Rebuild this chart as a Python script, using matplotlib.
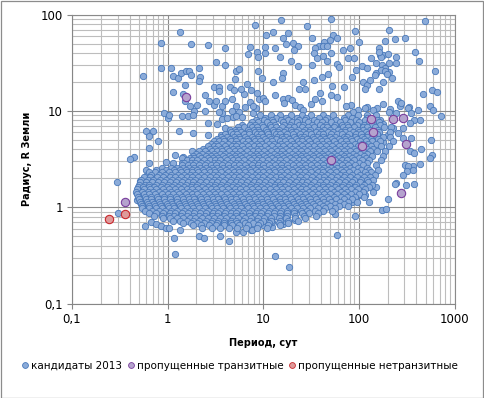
import numpy as np
import matplotlib
matplotlib.use("Agg")
import matplotlib.pyplot as plt
from matplotlib.patches import Rectangle
from matplotlib.lines import Line2D

plt.rcParams['font.family'] = ['DejaVu Sans']

# ---------------- data ----------------
# Candidate planets (Kepler 2013).
# Values are given as (log10 period [days], log10 radius [Earth radii]).

# sparse points above / around the main cloud
cand_upper = [
    (-0.07, 1.71), (0.13, 1.82), (0.24, 1.70), (0.42, 1.69), (0.60, 1.65), (0.91, 1.89), (0.86, 1.66),
    (0.84, 1.59), (0.93, 1.61), (0.95, 1.56), (1.02, 1.60), (1.02, 1.66), (1.03, 1.79), (1.10, 1.82),
    (1.12, 1.65), (1.19, 1.94), (1.21, 1.76), (1.26, 1.81), (1.24, 1.70), (1.31, 1.71), (1.36, 1.68),
    (1.32, 1.63), (1.46, 1.88), (1.51, 1.76), (1.71, 1.96), (1.73, 1.79), (1.77, 1.76), (1.70, 1.74),
    (1.64, 1.72), (1.58, 1.68), (1.54, 1.65), (1.63, 1.67), (1.71, 1.60), (1.83, 1.63), (1.91, 1.65),
    (1.96, 1.83), (2.00, 1.72), (2.21, 1.65), (2.22, 1.58), (2.25, 1.58), (2.13, 1.55), (2.32, 1.84),
    (2.27, 1.73), (2.38, 1.75), (2.48, 1.76), (2.59, 1.61), (2.69, 1.93), (2.39, 1.56),
    (1.18, 1.56), (1.29, 1.52), (1.53, 1.60), (1.56, 1.55), (1.51, 1.48), (1.63, 1.57), (1.67, 1.52),
    (1.77, 1.49), (1.79, 1.46), (1.89, 1.55), (1.95, 1.55), (2.03, 1.47), (2.08, 1.45), (2.23, 1.56),
    (2.18, 1.50), (2.24, 1.48), (2.27, 1.45), (2.32, 1.50), (2.39, 1.50), (2.63, 1.52), (1.36, 1.47),
    (1.67, 1.68), (2.21, 1.61), (2.30, 1.59), (2.31, 1.40), (2.18, 1.39),
]

cand_middle = [
    (0.51, 1.51), (0.60, 1.48), (-0.07, 1.45), (0.04, 1.45), (-0.26, 1.36), (0.06, 1.36), (0.11, 1.34),
    (0.14, 1.39), (0.19, 1.41), (0.22, 1.41), (0.24, 1.37), (0.33, 1.45), (0.34, 1.35), (0.33, 1.31),
    (0.18, 1.27), (0.06, 1.20), (0.16, 1.18), (0.18, 1.10), (0.23, 1.05), (0.31, 1.06), (0.39, 1.17),
    (0.49, 1.25), (0.54, 1.25), (0.54, 1.21), (0.65, 1.25), (0.69, 1.22), (0.70, 1.33), (0.72, 1.42),
    (0.75, 1.44), (0.83, 1.28), (0.80, 1.18), (0.87, 1.22), (0.77, 1.23), (0.95, 1.42), (-0.04, 0.98),
    (0.00, 0.93), (0.01, 0.96), (0.15, 0.95), (0.21, 0.95), (0.28, 1.00), (0.39, 1.00), (0.42, 0.87),
    (0.52, 0.86), (0.12, 0.79), (0.27, 0.77), (0.42, 0.75), (-0.23, 0.79), (-0.15, 0.79), (-0.19, 0.74),
    (-0.10, 0.69), (-0.19, 0.62), (-0.35, 0.52), (-0.39, 0.50), (0.08, 0.54), (0.16, 0.52),
    (0.43, 1.10), (0.48, 1.06), (0.51, 1.10), (0.57, 1.05), (0.60, 1.10), (0.67, 1.12), (0.72, 1.05),
    (0.67, 1.00), (0.75, 0.99), (0.81, 1.04), (0.86, 1.09), (0.89, 0.98), (0.92, 1.03), (0.96, 1.12),
    (0.57, 0.98), (0.57, 0.92), (0.62, 0.93), (0.68, 0.94), (0.71, 0.95), (0.78, 0.94),
    (0.27, 0.96), (0.54, 0.99), (0.56, 0.75), (0.60, 0.82), (0.65, 0.80), (-0.19, 0.46), (-0.23, 0.39),
    (-0.22, 0.34), (-0.02, 0.47), (0.06, 0.46), (0.15, 0.51), (0.15, 0.46), (0.25, 0.58),
    (0.99, 1.34), (1.10, 1.30), (1.37, 1.23), (1.42, 1.30), (1.44, 1.23), (1.53, 1.32), (1.61, 1.35),
    (1.68, 1.38), (1.72, 1.26), (1.84, 1.25), (1.93, 1.35), (1.97, 1.43), (2.04, 1.30), (2.08, 1.27),
    (2.12, 1.32), (2.17, 1.37), (2.23, 1.43), (2.27, 1.42), (2.29, 1.38), (2.35, 1.34), (2.25, 1.30),
    (2.21, 1.23), (2.06, 1.23), (2.80, 1.41), (2.76, 1.22), (2.82, 1.20), (0.93, 1.19), (1.00, 1.13),
    (1.02, 1.10), (0.89, 1.05), (1.12, 1.17), (1.21, 1.12), (1.26, 1.13), (1.30, 1.11), (1.22, 1.08),
    (1.33, 1.06), (1.38, 1.04), (1.42, 1.01), (1.50, 1.07), (1.54, 1.12), (1.59, 1.19), (1.61, 1.10),
    (1.71, 1.17), (1.77, 1.14), (1.92, 1.06), (1.99, 1.01), (2.09, 1.04), (2.19, 1.03), (2.25, 1.07),
    (2.33, 1.02), (2.41, 1.10), (2.43, 1.05), (2.52, 1.04), (2.67, 1.18),
    (1.21, 1.39), (1.20, 1.34),
]

cand_right = [
    (1.87, 1.05), (1.94, 0.99), (1.89, 0.96), (1.83, 0.89), (1.97, 0.91), (2.06, 1.03), (2.08, 0.96),
    (2.15, 1.01), (2.18, 0.96), (2.22, 0.91), (2.25, 0.86), (2.20, 0.82), (2.32, 0.99), (2.39, 0.98),
    (2.44, 1.08), (2.51, 1.03), (2.55, 0.98), (2.62, 1.01), (2.64, 0.91), (2.58, 0.91), (2.53, 0.87),
    (2.74, 1.05), (2.78, 1.01), (2.86, 0.95), (2.46, 0.82), (2.41, 0.77), (2.36, 0.82), (2.30, 0.75),
    (2.25, 0.68), (2.46, 0.72), (2.55, 0.72), (2.75, 0.70), (2.53, 0.58), (2.58, 0.56), (2.65, 0.61),
    (2.48, 0.44), (2.39, 0.25), (2.18, 0.21), (2.15, 0.16), (2.06, 0.13), (2.01, 0.13),
    (2.76, 0.54), (2.74, 0.51), (2.64, 0.45), (2.57, 0.43), (2.51, 0.43), (2.50, 0.38), (2.46, 0.33),
    (2.57, 0.39), (2.58, 0.24), (2.49, 0.23), (2.38, 0.24), (2.30, 0.09), (2.24, -0.03), (2.28, -0.02),
    (2.11, 0.05), (1.96, -0.09), (1.93, 0.05), (1.89, 0.09), (1.75, -0.07), (1.77, -0.29),
]

cand_lower = [
    (-0.53, 0.26), (-0.29, 0.27), (-0.28, 0.21), (-0.31, 0.16), (-0.29, 0.09), (-0.32, 0.08),
    (-0.24, -0.19), (-0.17, -0.15), (-0.12, -0.17), (-0.07, -0.19), (-0.02, -0.22), (0.01, -0.22),
    (0.07, -0.32), (0.08, -0.49), (0.13, -0.24), (0.33, -0.30), (0.38, -0.32), (0.55, -0.30),
    (0.64, -0.35), (0.71, -0.26), (0.79, -0.26), (0.87, -0.24), (-0.52, -0.06),
    (1.12, -0.51), (1.27, -0.62), (1.09, -0.21), (1.09, -0.15), (1.00, -0.18), (0.93, -0.15),
    (1.21, -0.17), (1.23, -0.14), (0.88, -0.24), (1.33, -0.13), (1.42, -0.05),
]

# dense cloud: one list of log10 periods for each log10 radius level
core_log_radius = [0.958, 0.931, 0.905, 0.884, 0.858, 0.829, 0.806, 0.783, 0.757, 0.732, 0.709, 0.683,
                   0.657, 0.636, 0.609, 0.586, 0.558, 0.534, 0.511, 0.487, 0.459, 0.436, 0.412, 0.387,
                   0.361, 0.338, 0.311, 0.288, 0.262, 0.236, 0.214, 0.187, 0.161, 0.138, 0.111, 0.087,
                   0.059, 0.036, 0.012, -0.013, -0.041, -0.064, -0.088, -0.113, -0.139, -0.163, -0.188,
                   -0.214]
core_log_period = [
    [0.97, 1.08, 1.17, 1.29, 1.40, 1.50, 1.62, 1.73, 1.99],
    [1.02, 1.13, 1.24, 1.35, 1.45, 1.58, 1.67, 1.84, 1.93, 2.08],
    [0.92, 1.01, 1.09, 1.19, 1.26, 1.37, 1.44, 1.53, 1.65, 1.76, 1.86, 1.97, 2.06, 2.19],
    [0.88, 0.95, 1.04, 1.10, 1.21, 1.30, 1.35, 1.47, 1.56, 1.61, 1.71, 1.80, 1.91, 2.00, 2.11, 2.21],
    [0.78, 0.86, 0.91, 0.99, 1.07, 1.12, 1.22, 1.28, 1.37, 1.42, 1.51, 1.59, 1.66, 1.75, 1.82, 1.88, 1.98,
     2.05, 2.14, 2.22],
    [0.74, 0.80, 0.88, 0.93, 1.00, 1.08, 1.13, 1.20, 1.27, 1.32, 1.41, 1.47, 1.53, 1.62, 1.67, 1.74, 1.83,
     1.89, 1.95, 2.04, 2.09, 2.17, 2.26, 2.34],
    [0.70, 0.75, 0.84, 0.90, 0.95, 1.03, 1.10, 1.16, 1.24, 1.29, 1.36, 1.44, 1.49, 1.57, 1.64, 1.70, 1.78,
     1.85, 1.91, 1.99, 2.04, 2.12, 2.20],
    [0.66, 0.72, 0.77, 0.85, 0.91, 0.96, 1.04, 1.11, 1.15, 1.22, 1.30, 1.34, 1.42, 1.48, 1.55, 1.60, 1.68,
     1.73, 1.81, 1.86, 1.94, 2.00, 2.07, 2.15, 2.21, 2.33],
    [0.60, 0.68, 0.73, 0.80, 0.85, 0.93, 0.98, 1.05, 1.13, 1.17, 1.25, 1.31, 1.38, 1.45, 1.50, 1.58, 1.63,
     1.71, 1.77, 1.82, 1.90, 1.97, 2.02, 2.10, 2.19],
    [0.56, 0.62, 0.69, 0.75, 0.81, 0.88, 0.94, 1.00, 1.06, 1.14, 1.20, 1.24, 1.32, 1.39, 1.43, 1.52, 1.56,
     1.63, 1.70, 1.75, 1.84, 1.88, 1.96, 2.03, 2.08, 2.16, 2.25, 2.33],
    [0.52, 0.58, 0.65, 0.71, 0.76, 0.83, 0.90, 0.95, 1.02, 1.08, 1.13, 1.21, 1.27, 1.34, 1.40, 1.46, 1.53,
     1.59, 1.65, 1.72, 1.79, 1.85, 1.92, 1.98, 2.05, 2.13, 2.20],
    [0.48, 0.54, 0.59, 0.66, 0.72, 0.79, 0.84, 0.91, 0.97, 1.04, 1.09, 1.17, 1.23, 1.29, 1.36, 1.41, 1.48,
     1.55, 1.61, 1.67, 1.74, 1.81, 1.87, 1.93, 2.01, 2.07, 2.14, 2.22, 2.36],
    [0.45, 0.51, 0.57, 0.63, 0.69, 0.74, 0.81, 0.87, 0.93, 0.99, 1.06, 1.11, 1.19, 1.25, 1.31, 1.37, 1.44,
     1.50, 1.57, 1.63, 1.69, 1.76, 1.83, 1.89, 1.96, 2.03, 2.10, 2.18],
    [0.42, 0.48, 0.53, 0.60, 0.67, 0.72, 0.78, 0.84, 0.90, 0.96, 1.02, 1.09, 1.15, 1.21, 1.28, 1.33, 1.40,
     1.47, 1.53, 1.59, 1.66, 1.72, 1.79, 1.86, 1.91, 1.99, 2.06, 2.13, 2.23, 2.31],
    [0.37, 0.44, 0.50, 0.56, 0.62, 0.68, 0.74, 0.80, 0.86, 0.93, 0.98, 1.05, 1.12, 1.17, 1.24, 1.30, 1.36,
     1.43, 1.49, 1.56, 1.62, 1.69, 1.75, 1.81, 1.88, 1.95, 2.01, 2.08, 2.15],
    [0.33, 0.39, 0.46, 0.52, 0.57, 0.64, 0.70, 0.76, 0.83, 0.89, 0.95, 1.01, 1.08, 1.14, 1.20, 1.27, 1.33,
     1.39, 1.46, 1.52, 1.58, 1.65, 1.71, 1.78, 1.84, 1.91, 1.97, 2.04, 2.12, 2.19, 2.27],
    [0.30, 0.36, 0.42, 0.48, 0.55, 0.60, 0.67, 0.73, 0.79, 0.86, 0.92, 0.98, 1.04, 1.11, 1.17, 1.23, 1.30,
     1.36, 1.42, 1.49, 1.55, 1.61, 1.68, 1.74, 1.81, 1.87, 1.94, 2.01, 2.09],
    [0.27, 0.33, 0.40, 0.45, 0.51, 0.58, 0.64, 0.70, 0.76, 0.82, 0.89, 0.95, 1.01, 1.07, 1.14, 1.20, 1.26,
     1.33, 1.39, 1.45, 1.52, 1.58, 1.64, 1.71, 1.77, 1.84, 1.90, 1.97, 2.05, 2.14, 2.25],
    [0.23, 0.28, 0.35, 0.42, 0.47, 0.53, 0.60, 0.66, 0.71, 0.78, 0.85, 0.90, 0.96, 1.03, 1.09, 1.15, 1.22,
     1.28, 1.34, 1.41, 1.47, 1.53, 1.60, 1.66, 1.73, 1.79, 1.86, 1.93, 2.00, 2.07],
    [0.20, 0.26, 0.31, 0.38, 0.44, 0.50, 0.55, 0.62, 0.68, 0.74, 0.80, 0.87, 0.93, 0.99, 1.05, 1.12, 1.18,
     1.24, 1.31, 1.37, 1.43, 1.50, 1.56, 1.62, 1.69, 1.75, 1.82, 1.88, 1.95, 2.03, 2.11, 2.23],
    [0.17, 0.24, 0.29, 0.35, 0.41, 0.48, 0.53, 0.59, 0.65, 0.72, 0.77, 0.84, 0.90, 0.96, 1.03, 1.09, 1.15,
     1.21, 1.28, 1.34, 1.40, 1.47, 1.53, 1.59, 1.66, 1.72, 1.79, 1.85, 1.92, 2.00, 2.08],
    [0.15, 0.21, 0.27, 0.33, 0.39, 0.45, 0.51, 0.57, 0.63, 0.69, 0.75, 0.81, 0.88, 0.94, 1.00, 1.06, 1.12,
     1.19, 1.25, 1.31, 1.37, 1.44, 1.50, 1.56, 1.63, 1.69, 1.76, 1.82, 1.89, 1.96, 2.04, 2.18],
    [-0.06, 0.04, 0.10, 0.16, 0.22, 0.28, 0.34, 0.40, 0.46, 0.52, 0.58, 0.64, 0.70, 0.77, 0.83, 0.89, 0.95,
     1.01, 1.08, 1.14, 1.20, 1.26, 1.33, 1.39, 1.45, 1.52, 1.58, 1.64, 1.71, 1.77, 1.84, 1.91, 1.99, 2.09],
    [-0.12, -0.02, 0.07, 0.13, 0.19, 0.25, 0.31, 0.37, 0.43, 0.49, 0.55, 0.61, 0.67, 0.74, 0.80, 0.86,
     0.92, 0.98, 1.05, 1.11, 1.17, 1.23, 1.30, 1.36, 1.42, 1.49, 1.55, 1.61, 1.68, 1.74, 1.81, 1.87, 1.94,
     2.02, 2.11, 2.20],
    [-0.20, -0.13, -0.06, 0.01, 0.08, 0.14, 0.20, 0.26, 0.32, 0.38, 0.44, 0.50, 0.56, 0.63, 0.69, 0.75,
     0.81, 0.87, 0.94, 1.00, 1.06, 1.12, 1.19, 1.25, 1.31, 1.38, 1.44, 1.50, 1.57, 1.63, 1.70, 1.76, 1.83,
     1.90, 1.98, 2.06, 2.13],
    [-0.17, -0.09, -0.03, 0.04, 0.11, 0.17, 0.23, 0.29, 0.35, 0.41, 0.47, 0.53, 0.60, 0.66, 0.72, 0.78,
     0.84, 0.91, 0.97, 1.03, 1.09, 1.16, 1.22, 1.28, 1.35, 1.41, 1.47, 1.54, 1.60, 1.67, 1.73, 1.80, 1.86,
     1.93, 2.01, 2.09, 2.17],
    [-0.25, -0.18, -0.11, -0.05, 0.02, 0.08, 0.14, 0.20, 0.26, 0.32, 0.38, 0.44, 0.51, 0.57, 0.63, 0.69,
     0.75, 0.82, 0.88, 0.94, 1.00, 1.07, 1.13, 1.19, 1.26, 1.32, 1.38, 1.45, 1.51, 1.58, 1.64, 1.71, 1.77,
     1.84, 1.91, 1.98, 2.05, 2.12],
    [-0.28, -0.21, -0.15, -0.08, -0.02, 0.05, 0.11, 0.17, 0.23, 0.29, 0.35, 0.42, 0.48, 0.54, 0.60, 0.66,
     0.73, 0.79, 0.85, 0.91, 0.98, 1.04, 1.10, 1.17, 1.23, 1.29, 1.36, 1.42, 1.49, 1.55, 1.62, 1.68, 1.75,
     1.81, 1.88, 1.95, 2.02, 2.08, 2.15],
    [-0.29, -0.23, -0.16, -0.10, -0.04, 0.03, 0.09, 0.15, 0.21, 0.27, 0.34, 0.40, 0.46, 0.52, 0.58, 0.65,
     0.71, 0.77, 0.83, 0.90, 0.96, 1.02, 1.08, 1.15, 1.21, 1.27, 1.34, 1.40, 1.46, 1.53, 1.59, 1.66, 1.72,
     1.79, 1.86, 1.93, 2.01, 2.10],
    [-0.30, -0.24, -0.19, -0.12, -0.06, 0.00, 0.07, 0.13, 0.19, 0.25, 0.31, 0.37, 0.44, 0.50, 0.56, 0.62,
     0.68, 0.75, 0.81, 0.87, 0.93, 1.00, 1.06, 1.12, 1.18, 1.25, 1.31, 1.37, 1.44, 1.50, 1.57, 1.63, 1.70,
     1.76, 1.83, 1.90, 1.97, 2.05, 2.14],
    [-0.31, -0.26, -0.20, -0.14, -0.07, -0.01, 0.05, 0.11, 0.17, 0.24, 0.30, 0.36, 0.42, 0.48, 0.55, 0.61,
     0.67, 0.73, 0.79, 0.86, 0.92, 0.98, 1.04, 1.11, 1.17, 1.23, 1.30, 1.36, 1.42, 1.49, 1.55, 1.62, 1.68,
     1.75, 1.82, 1.89, 1.96, 2.03, 2.11],
    [-0.32, -0.25, -0.18, -0.12, -0.05, 0.01, 0.08, 0.14, 0.20, 0.26, 0.32, 0.39, 0.45, 0.51, 0.57, 0.63,
     0.70, 0.76, 0.82, 0.88, 0.95, 1.01, 1.07, 1.13, 1.20, 1.26, 1.32, 1.39, 1.45, 1.52, 1.58, 1.65, 1.71,
     1.78, 1.85, 1.92, 1.99, 2.06],
    [-0.33, -0.27, -0.21, -0.15, -0.09, -0.03, 0.04, 0.10, 0.16, 0.22, 0.29, 0.35, 0.41, 0.47, 0.53, 0.60,
     0.66, 0.72, 0.78, 0.85, 0.91, 0.97, 1.03, 1.10, 1.16, 1.22, 1.29, 1.35, 1.41, 1.48, 1.54, 1.61, 1.67,
     1.74, 1.81, 1.88, 1.96, 2.04],
    [-0.32, -0.25, -0.19, -0.13, -0.06, 0.00, 0.06, 0.12, 0.19, 0.25, 0.31, 0.37, 0.43, 0.50, 0.56, 0.62,
     0.68, 0.75, 0.81, 0.87, 0.93, 1.00, 1.06, 1.12, 1.19, 1.25, 1.31, 1.38, 1.44, 1.51, 1.57, 1.64, 1.70,
     1.77, 1.84, 1.92, 2.00],
    [-0.31, -0.24, -0.17, -0.11, -0.04, 0.02, 0.09, 0.15, 0.21, 0.27, 0.34, 0.40, 0.46, 0.52, 0.59, 0.65,
     0.71, 0.77, 0.84, 0.90, 0.96, 1.03, 1.09, 1.15, 1.22, 1.28, 1.34, 1.41, 1.47, 1.54, 1.60, 1.67, 1.74,
     1.81, 1.88, 1.96, 2.05],
    [-0.30, -0.23, -0.17, -0.10, -0.04, 0.03, 0.10, 0.16, 0.22, 0.28, 0.35, 0.41, 0.47, 0.53, 0.60, 0.66,
     0.72, 0.79, 0.85, 0.91, 0.98, 1.04, 1.10, 1.17, 1.23, 1.29, 1.36, 1.42, 1.49, 1.55, 1.62, 1.69, 1.76,
     1.84, 1.93],
    [-0.29, -0.22, -0.16, -0.09, -0.03, 0.04, 0.10, 0.17, 0.23, 0.29, 0.36, 0.42, 0.48, 0.55, 0.61, 0.67,
     0.74, 0.80, 0.86, 0.93, 0.99, 1.05, 1.12, 1.18, 1.24, 1.31, 1.37, 1.44, 1.50, 1.57, 1.64, 1.71, 1.80,
     1.89, 1.98],
    [-0.28, -0.21, -0.14, -0.08, -0.01, 0.05, 0.12, 0.18, 0.24, 0.31, 0.37, 0.43, 0.50, 0.56, 0.62, 0.69,
     0.75, 0.81, 0.88, 0.94, 1.00, 1.07, 1.13, 1.19, 1.26, 1.32, 1.39, 1.45, 1.52, 1.59, 1.67, 1.75, 1.84],
    [-0.27, -0.20, -0.13, -0.07, 0.00, 0.06, 0.13, 0.19, 0.26, 0.32, 0.38, 0.45, 0.51, 0.57, 0.64, 0.70,
     0.76, 0.83, 0.89, 0.95, 1.02, 1.08, 1.15, 1.21, 1.27, 1.34, 1.40, 1.47, 1.54, 1.62, 1.70, 1.79, 1.89],
    [-0.27, -0.19, -0.12, -0.06, 0.01, 0.07, 0.14, 0.20, 0.27, 0.33, 0.39, 0.46, 0.52, 0.58, 0.65, 0.71,
     0.77, 0.84, 0.90, 0.97, 1.03, 1.09, 1.16, 1.22, 1.29, 1.35, 1.42, 1.49, 1.57, 1.65, 1.75],
    [-0.24, -0.16, -0.09, -0.03, 0.04, 0.10, 0.17, 0.23, 0.29, 0.36, 0.42, 0.48, 0.55, 0.61, 0.68, 0.74,
     0.80, 0.87, 0.93, 1.00, 1.06, 1.12, 1.19, 1.25, 1.32, 1.39, 1.46, 1.54, 1.63, 1.72],
    [-0.20, -0.12, -0.05, 0.02, 0.08, 0.15, 0.21, 0.28, 0.34, 0.40, 0.47, 0.53, 0.60, 0.66, 0.72, 0.79,
     0.85, 0.92, 0.98, 1.05, 1.11, 1.18, 1.25, 1.32, 1.40, 1.48, 1.57],
    [-0.14, -0.06, 0.01, 0.07, 0.14, 0.20, 0.27, 0.33, 0.39, 0.46, 0.52, 0.59, 0.65, 0.72, 0.78, 0.85,
     0.91, 0.97, 1.04, 1.11, 1.18, 1.25, 1.33, 1.43, 1.55],
    [-0.05, 0.03, 0.10, 0.16, 0.23, 0.29, 0.36, 0.42, 0.48, 0.55, 0.61, 0.68, 0.74, 0.81, 0.87, 0.94,
     1.01, 1.08, 1.16, 1.24, 1.33, 1.44],
    [0.06, 0.13, 0.20, 0.27, 0.33, 0.40, 0.46, 0.53, 0.59, 0.66, 0.72, 0.79, 0.86, 0.93, 1.00, 1.08, 1.17,
     1.26, 1.36],
    [0.16, 0.24, 0.31, 0.38, 0.45, 0.52, 0.59, 0.66, 0.73, 0.81, 0.89, 0.97, 1.06, 1.16, 1.26],
    [0.27, 0.35, 0.43, 0.51, 0.59, 0.67, 0.75, 0.84, 0.94, 1.05, 1.17],
    [0.36, 0.46, 0.55, 0.64, 0.73, 0.82, 0.93, 1.04],
]

# missed transiting planets (period [days], radius [Earth radii])
missed_tr_period = [1.57, 50.7, 107, 133, 139, 230, 292, 309, 274, 0.361]
missed_tr_radius = [14.0, 3.07, 4.31, 8.22, 6.11, 8.28, 8.54, 4.55, 1.42, 1.14]
# missed non-transiting planets
missed_ntr_period = [0.245, 0.355]
missed_ntr_radius = [0.755, 0.858]

x_ticks = [0.1, 1, 10, 100, 1000]
x_tick_labels = ["0,1", "1", "10", "100", "1000"]
y_ticks = [0.1, 1, 10, 100]
y_tick_labels = ["0,1", "1", "10", "100"]

series_labels = ["кандидаты 2013", "пропущенные транзитные", "пропущенные нетранзитные"]

# ---------------- assemble candidates ----------------
pairs = cand_upper + cand_middle + cand_right + cand_lower
log_p = [p for p, r in pairs]
log_r = [r for p, r in pairs]
for lr, row in zip(core_log_radius, core_log_period):
    for lp in row:
        log_p.append(lp)
        log_r.append(lr)
cand_period = 10 ** np.array(log_p)
cand_radius = 10 ** np.array(log_r)

# ---------------- figure ----------------
W, H = 484, 398
fig = plt.figure(figsize=(W / 100, H / 100), dpi=100)
ax = fig.add_axes([72 / W, 1 - 303.5 / H, (454.5 - 72) / W, (303.5 - 14.7) / H])

blue_face, blue_edge = '#8BABD9', '#4878BA'
purp_face, purp_edge = '#B5A3CE', '#7A3E9D'
red_face, red_edge = '#DE9A9A', '#C8282D'

ax.scatter(cand_period, cand_radius, s=21, c=blue_face, edgecolors=blue_edge, linewidths=0.6, zorder=3)
ax.scatter(missed_tr_period, missed_tr_radius, s=36, c=purp_face, edgecolors=purp_edge, linewidths=0.8, zorder=4)
ax.scatter(missed_ntr_period, missed_ntr_radius, s=36, c=red_face, edgecolors=red_edge, linewidths=0.8, zorder=5)

ax.set_xscale('log')
ax.set_yscale('log')
ax.set_xlim(0.1, 1000)
ax.set_ylim(0.1, 100)

ax.set_xticks(x_ticks)
ax.set_xticklabels(x_tick_labels)
ax.set_yticks(y_ticks)
ax.set_yticklabels(y_tick_labels)
ax.xaxis.set_minor_formatter(matplotlib.ticker.NullFormatter())
ax.yaxis.set_minor_formatter(matplotlib.ticker.NullFormatter())

ax.set_axisbelow(True)
ax.grid(which='major', color='#8A8A8A', linewidth=0.8)
ax.grid(which='minor', color='#BDBDBD', linewidth=0.8)

ax.tick_params(which='major', length=3.5, width=0.8, color='#868686', direction='out',
               labelsize=8.5, pad=3)
ax.tick_params(which='minor', length=0)
for side in ['left', 'bottom']:
    ax.spines[side].set_color('#868686')
    ax.spines[side].set_linewidth(0.8)
for side in ['top', 'right']:
    ax.spines[side].set_color('#8A8A8A')
    ax.spines[side].set_linewidth(0.8)

fig.text(263 / W, 1 - 342.5 / H, "Период, сут", ha='center', va='center', fontsize=7, fontweight='bold')
fig.text(27 / W, 1 - 158.5 / H, "Радиус, R Земли", ha='center', va='center', fontsize=7,
         fontweight='bold', rotation=90)

handles = [
    Line2D([], [], ls='none', marker='o', markersize=4.2, markerfacecolor=blue_face,
           markeredgecolor=blue_edge, markeredgewidth=0.6),
    Line2D([], [], ls='none', marker='o', markersize=4.2, markerfacecolor=purp_face,
           markeredgecolor=purp_edge, markeredgewidth=0.6),
    Line2D([], [], ls='none', marker='o', markersize=4.2, markerfacecolor=red_face,
           markeredgecolor=red_edge, markeredgewidth=0.6),
]
fig.legend(handles, series_labels, loc='center', bbox_to_anchor=(240 / W, 1 - 365.7 / H), ncol=3,
           frameon=False, fontsize=7.5, handlelength=0.6, handletextpad=0.3, columnspacing=0.5,
           borderpad=0, borderaxespad=0)

fig.patches.append(Rectangle((0.5 / W, 0.5 / H), 1 - 1.5 / W, 1 - 1.5 / H, transform=fig.transFigure,
                             fill=False, edgecolor='#8C8C8C', linewidth=0.9))

fig.savefig('out.png', dpi=100)
